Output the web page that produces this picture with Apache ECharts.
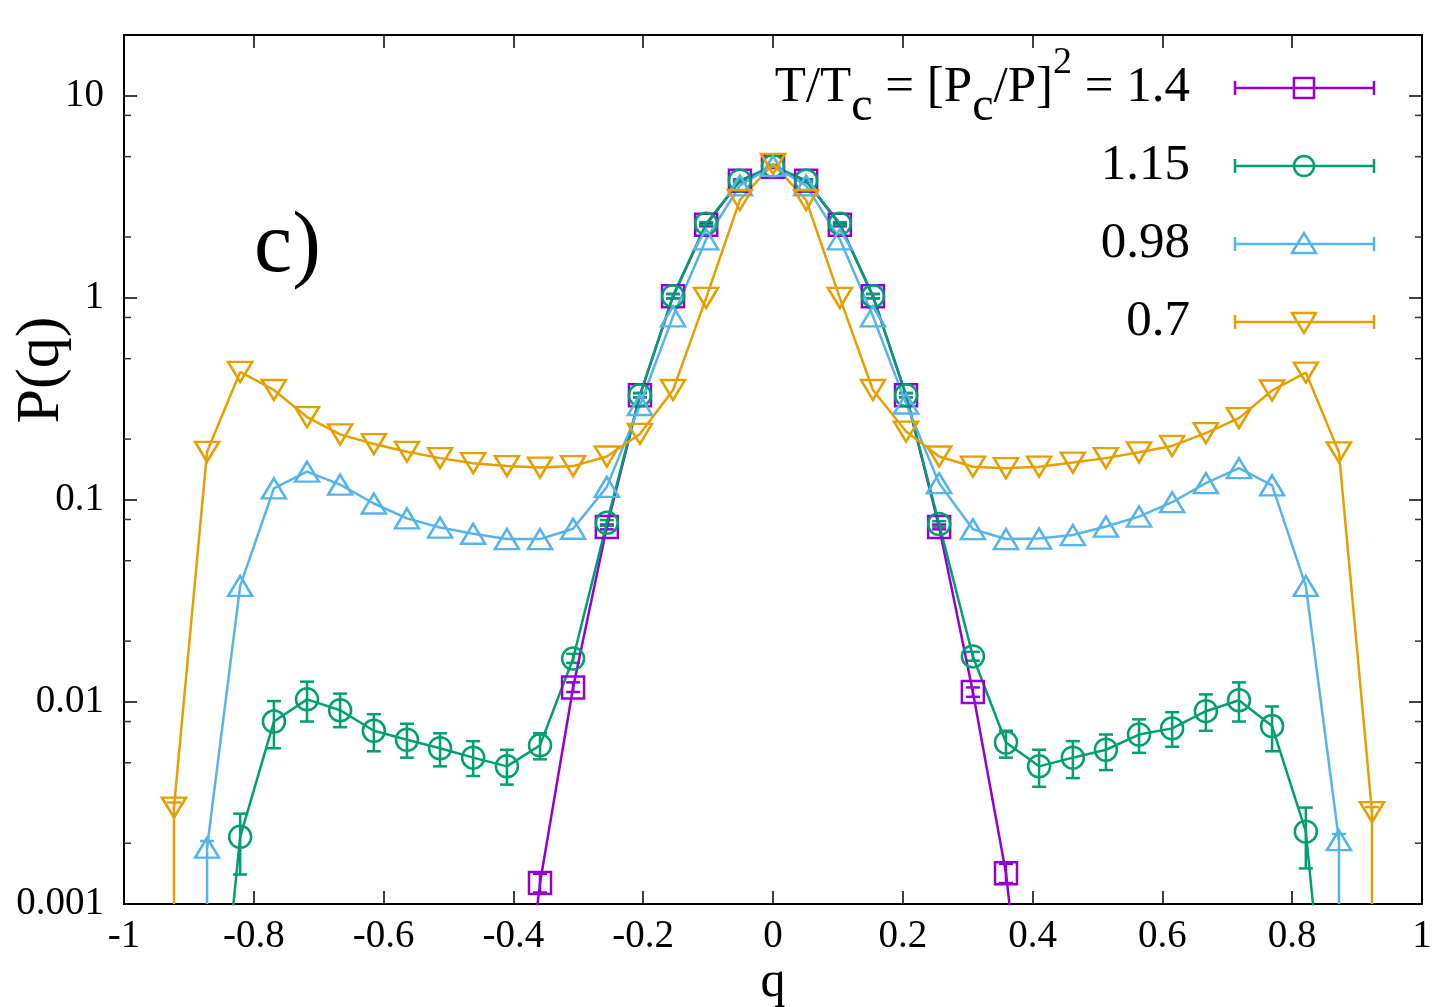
<!DOCTYPE html>
<html>
<head>
<meta charset="utf-8">
<script src="https://cdn.jsdelivr.net/npm/echarts@6/dist/echarts.min.js"></script>
<style>
  html, body { margin: 0; padding: 0; background: #fff; }
  #main { width: 1436px; height: 1007px; }
</style>
</head>
<body>
<div id="main"></div>
<script>
// overlap values q (steps of 2/39)
var q = [-0.923, -0.872, -0.821, -0.769, -0.718, -0.667, -0.615, -0.564, -0.513, -0.462,
         -0.410, -0.359, -0.308, -0.256, -0.205, -0.154, -0.103, -0.051, 0,
         0.051, 0.103, 0.154, 0.205, 0.256, 0.308, 0.359, 0.410, 0.462, 0.513,
         0.564, 0.615, 0.667, 0.718, 0.769, 0.821, 0.872, 0.923];

// P(q) for T/Tc = 1.4
var p14 = [null, null, null, null, null, null, null, null, null, null,
           5e-5, 0.00127, 0.0118, 0.0735, 0.33, 1.02, 2.3, 3.8, 4.45,
           3.8, 2.3, 1.02, 0.33, 0.0735, 0.0112, 0.00142, 5e-5,
           null, null, null, null, null, null, null, null, null, null];
var p14Lo = [null, null, null, null, null, null, null, null, null, null,
             null, 0.00114, 0.0112, 0.0715, 0.322, 0.995, 2.26, 3.74, 4.39,
             3.74, 2.26, 0.995, 0.322, 0.0715, 0.0106, 0.00127, null,
             null, null, null, null, null, null, null, null, null, null];
var p14Hi = [null, null, null, null, null, null, null, null, null, null,
             null, 0.00141, 0.0125, 0.0755, 0.338, 1.045, 2.34, 3.86, 4.51,
             3.86, 2.34, 1.045, 0.338, 0.0755, 0.0118, 0.00158, null,
             null, null, null, null, null, null, null, null, null, null];

// T/Tc = 1.15
var p115 = [null, 5e-5, 0.00215, 0.0080, 0.0103, 0.0091, 0.0072, 0.0065, 0.0059, 0.0053,
            0.0048, 0.0061, 0.0164, 0.077, 0.33, 1.02, 2.33, 3.8, 4.5,
            3.8, 2.33, 1.02, 0.33, 0.076, 0.0168, 0.0063, 0.0048, 0.0053, 0.0058,
            0.0069, 0.0074, 0.0090, 0.0102, 0.0076, 0.00228, 5e-5, null];
var p115Lo = [null, null, 0.0014, 0.0059, 0.0080, 0.0075, 0.0057, 0.0053, 0.0048, 0.0043,
              0.0039, 0.0052, 0.0156, 0.0745, 0.322, 0.995, 2.29, 3.75, 4.45,
              3.75, 2.29, 0.995, 0.322, 0.0735, 0.0160, 0.0053, 0.0038, 0.0042, 0.0046,
              0.0056, 0.0060, 0.0072, 0.0080, 0.0057, 0.0015, null, null];
var p115Hi = [null, null, 0.0028, 0.0101, 0.0126, 0.0110, 0.0087, 0.0078, 0.0070, 0.0064,
              0.0058, 0.0070, 0.0173, 0.0795, 0.338, 1.045, 2.37, 3.85, 4.55,
              3.85, 2.37, 1.045, 0.338, 0.0785, 0.0177, 0.0072, 0.0058, 0.0064, 0.0069,
              0.0082, 0.0089, 0.0109, 0.0125, 0.0095, 0.0030, null, null];

// T/Tc = 0.98
var p098 = [null, 0.0019, 0.0375, 0.114, 0.138, 0.119, 0.096, 0.081, 0.073, 0.068,
            0.064, 0.064, 0.072, 0.116, 0.295, 0.81, 1.95, 3.6, 4.5,
            3.6, 1.95, 0.81, 0.30, 0.121, 0.0716, 0.064, 0.0644, 0.067, 0.0738,
            0.0827, 0.0974, 0.121, 0.1435, 0.118, 0.0375, 0.00207, null];
var p098Lo = [null, 1e-6, null, null, null, null, null, null, null, null,
              null, null, null, null, null, null, null, null, null,
              null, null, null, null, null, null, null, null, null, null,
              null, null, null, null, null, null, 1e-6, null];
var p098Hi = [null, 0.00205, null, null, null, null, null, null, null, null,
              null, null, null, null, null, null, null, null, null,
              null, null, null, null, null, null, null, null, null, null,
              null, null, null, null, null, null, 0.00222, null];

// T/Tc = 0.7
var p07 = [0.003, 0.173, 0.43, 0.35, 0.257, 0.211, 0.189, 0.173, 0.161, 0.152,
           0.147, 0.1445, 0.147, 0.164, 0.212, 0.35, 1.0, 3.05, 4.6,
           3.05, 1.0, 0.35, 0.218, 0.164, 0.146, 0.1435, 0.146, 0.153, 0.161,
           0.172, 0.185, 0.214, 0.254, 0.348, 0.427, 0.172, 0.00285];
var p07Lo = [1e-6, null, null, null, null, null, null, null, null, null,
             null, null, null, null, null, null, null, null, null,
             null, null, null, null, null, null, null, null, null, null,
             null, null, null, null, null, null, null, 1e-6];
var p07Hi = [0.00318, null, null, null, null, null, null, null, null, null,
             null, null, null, null, null, null, null, null, null,
             null, null, null, null, null, null, null, null, null, null,
             null, null, null, null, null, null, null, 0.00302];

var xTicks = [-1, -0.8, -0.6, -0.4, -0.2, 0, 0.2, 0.4, 0.6, 0.8, 1];
var yTicks = [0.001, 0.01, 0.1, 1, 10];
var yMinorTicks = [0.002, 0.005, 0.008, 0.02, 0.05, 0.08, 0.2, 0.5, 0.8, 2, 5, 8];

var FONT = 'Liberation Serif';
var sets = [
  {name: '1.4',  vals: p14,  lo: p14Lo,  hi: p14Hi,  color: '#9400d3', symbol: 'rect',     size: 22,       rot: 0},
  {name: '1.15', vals: p115, lo: p115Lo, hi: p115Hi, color: '#009e73', symbol: 'circle',   size: 22,       rot: 0},
  {name: '0.98', vals: p098, lo: p098Lo, hi: p098Hi, color: '#56b4e9', symbol: 'triangle', size: [24, 20], rot: 0},
  {name: '0.7',  vals: p07,  lo: p07Lo,  hi: p07Hi,  color: '#e69f00', symbol: 'triangle', size: [24, 20], rot: 180}
];

function pairs(v) {
  var out = [];
  for (var i = 0; i < q.length; i++) if (v[i] != null) out.push([q[i], v[i]]);
  return out;
}
function errTriples(lo, hi) {
  var out = [];
  for (var i = 0; i < q.length; i++) if (lo[i] != null) out.push([q[i], lo[i], hi[i]]);
  return out;
}

function errRender(color) {
  return function (params, api) {
    var x = api.value(0);
    var top = api.coord([x, api.value(2)]);
    var bot = api.coord([x, api.value(1)]);
    var w = 7, st = {stroke: color, lineWidth: 2.5};
    return {type: 'group', children: [
      {type: 'line', shape: {x1: top[0], y1: top[1], x2: bot[0], y2: bot[1]}, style: st},
      {type: 'line', shape: {x1: top[0] - w, y1: top[1], x2: top[0] + w, y2: top[1]}, style: st},
      {type: 'line', shape: {x1: bot[0] - w, y1: bot[1], x2: bot[0] + w, y2: bot[1]}, style: st}
    ]};
  };
}

var series = [];
sets.forEach(function (s) {
  series.push({
    type: 'line', name: s.name, data: pairs(s.vals),
    symbol: s.symbol, symbolSize: s.size, symbolRotate: s.rot,
    showAllSymbol: true, clip: true,
    lineStyle: {color: s.color, width: 2.5},
    itemStyle: {color: 'rgba(0,0,0,0)', borderColor: s.color, borderWidth: 2.5}
  });
  series.push({
    type: 'custom', data: errTriples(s.lo, s.hi), clip: true,
    encode: {x: 0, y: [1, 2]},
    renderItem: errRender(s.color)
  });
});

// minor ticks on the log axis at 2, 5, 8 per decade (left and right)
series.push({
  type: 'custom', silent: true, clip: false,
  data: yMinorTicks.map(function (v) { return [xTicks[0], v]; }),
  encode: {x: 0, y: 1},
  renderItem: function (params, api) {
    var v = api.value(1);
    var l = api.coord([xTicks[0], v]);
    var r = api.coord([xTicks[xTicks.length - 1], v]);
    var st = {stroke: '#333', lineWidth: 1.5};
    return {type: 'group', children: [
      {type: 'line', shape: {x1: l[0], y1: l[1], x2: l[0] + 7, y2: l[1]}, style: st},
      {type: 'line', shape: {x1: r[0], y1: r[1], x2: r[0] - 7, y2: r[1]}, style: st}
    ]};
  }
});

// legend drawn as graphic rows
var rowY = [88, 166, 244, 322];
var graphics = [];
sets.forEach(function (s, i) {
  var y = rowY[i];
  var txt = i === 0 ? '{m|T/T}{s|c}{m| = [P}{s|c}{m|/P]}{p|2}{m| = 1.4}' : '{m|' + s.name + '}';
  graphics.push({
    type: 'text', x: 1190, y: y,
    style: {
      text: txt, align: 'right', verticalAlign: 'middle', fill: '#000',
      rich: {
        m: {fontSize: 51, fontFamily: FONT, lineHeight: 87, verticalAlign: 'middle', color: '#000'},
        s: {fontSize: 48, fontFamily: FONT, verticalAlign: 'bottom', color: '#000'},
        p: {fontSize: 38, fontFamily: FONT, verticalAlign: 'top', color: '#000'}
      }
    }
  });
  var st = {stroke: s.color, lineWidth: 2.5, fill: null};
  graphics.push({type: 'line', shape: {x1: 1235, y1: y, x2: 1374, y2: y}, style: st});
  graphics.push({type: 'line', shape: {x1: 1235, y1: y - 7, x2: 1235, y2: y + 7}, style: st});
  graphics.push({type: 'line', shape: {x1: 1374, y1: y - 7, x2: 1374, y2: y + 7}, style: st});
  var cx = 1304, ms = {stroke: s.color, lineWidth: 2.5, fill: 'rgba(0,0,0,0)'};
  if (s.symbol === 'rect') {
    graphics.push({type: 'rect', shape: {x: cx - 10, y: y - 10, width: 20, height: 20}, style: ms});
  } else if (s.symbol === 'circle') {
    graphics.push({type: 'circle', shape: {cx: cx, cy: y, r: 10}, style: ms});
  } else if (s.rot === 0) {
    graphics.push({type: 'polygon', shape: {points: [[cx, y - 11], [cx + 12, y + 9], [cx - 12, y + 9]]}, style: ms});
  } else {
    graphics.push({type: 'polygon', shape: {points: [[cx, y + 11], [cx + 12, y - 9], [cx - 12, y - 9]]}, style: ms});
  }
});
graphics.push({type: 'text', x: 254, y: 248,
  style: {text: 'c)', fontSize: 86, fontFamily: FONT, fill: '#000', align: 'left', verticalAlign: 'middle'}});
graphics.push({type: 'text', x: 42, y: 370, rotation: Math.PI / 2,
  style: {text: 'P(q)', fontSize: 62, fontFamily: FONT, fill: '#000', align: 'center', verticalAlign: 'middle'}});

var tickStyle = {show: true, inside: true, length: 13, lineStyle: {color: '#000', width: 1.5}};
var noLine = {show: false, onZero: false};
var option = {
  animation: false,
  backgroundColor: '#fff',
  grid: {left: 124, right: 14, top: 35, bottom: 103, outerBoundsMode: 'none', containLabel: false,
         show: true, borderColor: '#000', borderWidth: 2, backgroundColor: 'transparent'},
  xAxis: [
    {type: 'value', min: xTicks[0], max: xTicks[xTicks.length - 1], interval: 0.2,
     name: 'q', nameLocation: 'middle', nameGap: 54, nameMoveOverlap: false,
     nameTextStyle: {fontSize: 50, fontFamily: FONT, color: '#000', verticalAlign: 'top'},
     axisLine: noLine, splitLine: {show: false}, axisTick: tickStyle,
     axisLabel: {fontSize: 39, fontFamily: FONT, color: '#000', margin: 13}},
    {type: 'value', position: 'top', min: xTicks[0], max: xTicks[xTicks.length - 1], interval: 0.2,
     axisLine: noLine, splitLine: {show: false}, axisTick: tickStyle, axisLabel: {show: false}}
  ],
  yAxis: [
    {type: 'log', logBase: 10, min: yTicks[0], max: 20, position: 'left',
     axisLine: noLine, splitLine: {show: false}, axisTick: tickStyle,
     axisLabel: {fontSize: 39, fontFamily: FONT, color: '#000', margin: 20, showMaxLabel: false}},
    {type: 'log', logBase: 10, min: yTicks[0], max: 20, position: 'right',
     axisLine: noLine, splitLine: {show: false}, axisTick: tickStyle, axisLabel: {show: false}}
  ],
  series: series,
  graphic: graphics
};

var chart = echarts.init(document.getElementById('main'), null, {renderer: 'canvas'});
chart.setOption(option);
</script>
</body>
</html>
